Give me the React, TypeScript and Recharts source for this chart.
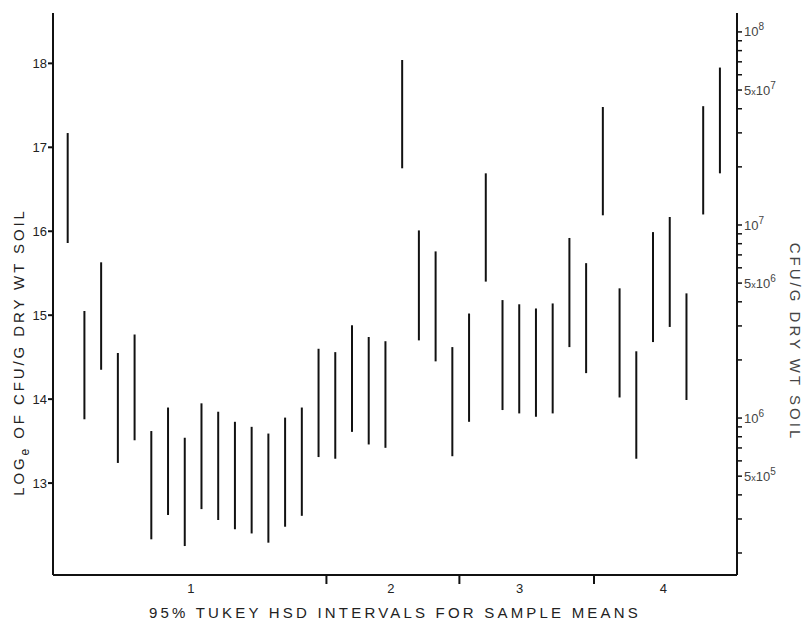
import React from 'react';
import { ComposedChart, Bar, XAxis, YAxis, Label } from 'recharts';

// Tukey HSD intervals, loge(CFU / g dry wt soil) left to right
const lower = [
  15.86, 13.76, 14.35, 13.24, 13.51, 12.33, 12.62, 12.25, 12.69, 12.56,
  12.45, 12.4, 12.29, 12.48, 12.61, 13.31, 13.29, 13.61, 13.46, 13.42,
  16.75, 14.7, 14.45, 13.32, 13.73, 15.4, 13.87, 13.83, 13.79, 13.83,
  14.62, 14.31, 16.19, 14.02, 13.29, 14.68, 14.86, 13.99, 16.2, 16.69,
];
const upper = [
  17.17, 15.05, 15.63, 14.55, 14.77, 13.62, 13.9, 13.54, 13.95, 13.85,
  13.73, 13.67, 13.59, 13.78, 13.9, 14.6, 14.56, 14.88, 14.74, 14.69,
  18.04, 16.01, 15.76, 14.62, 15.02, 16.69, 15.18, 15.13, 15.08, 15.14,
  15.92, 15.62, 17.48, 15.32, 14.57, 15.99, 16.17, 15.26, 17.49, 17.95,
];

const groupNames = ['1', '2', '3', '4'];
const groupCenters = [7.35, 19.3, 27.0, 35.6];
const groupBreaks = [15.45, 23.4, 31.45];

const leftTicks = [13, 14, 15, 16, 17, 18];
const rightMantissas = [1, 2, 3, 4, 5, 6, 7, 8, 9];
const rightExponents = [5, 6, 7, 8];

const rows = lower.map((lo, i) => ({ pos: i, range: [lo, upper[i]] }));

const rightTicks: number[] = [];
rightExponents.forEach((e) => {
  rightMantissas.forEach((m) => {
    const v = Math.log10(m * Math.pow(10, e));
    if (v >= 5.2 && v <= 8.001) rightTicks.push(v);
  });
});

const FONT = '"Liberation Sans", Arial, Helvetica, sans-serif';

const XTick = (props: any) => {
  const { x, y, payload } = props;
  const idx = groupCenters.indexOf(payload.value);
  if (idx >= 0) {
    return (
      <text x={x} y={y + 18} textAnchor="middle" fontSize={13} fill="#222" fontFamily={FONT}>
        {groupNames[idx]}
      </text>
    );
  }
  return <line x1={x} x2={x} y1={y} y2={y + 9} stroke="#111" strokeWidth={2} />;
};

const RightTick = (props: any) => {
  const { x, y, payload } = props;
  const exp = Math.floor(payload.value + 1e-9);
  const mant = Math.round(Math.pow(10, payload.value - exp));
  if (mant !== 1 && mant !== 5) return null;
  return (
    <text x={x + 1} y={y} dy="0.35em" fontSize={13} fill="#444" fontFamily={FONT}>
      {mant === 5 && <tspan>5</tspan>}
      {mant === 5 && <tspan fontSize={9}>x</tspan>}
      <tspan>10</tspan>
      <tspan dy={-6} fontSize={10}>{exp}</tspan>
    </text>
  );
};

export default function App() {
  return (
    <div style={{ position: 'absolute', left: 0, top: 0, background: '#fff' }}>
      <ComposedChart
        width={803}
        height={622}
        data={rows}
        margin={{ top: 13, right: 6, bottom: 17, left: 8 }}
      >
        <XAxis
          dataKey="pos"
          type="number"
          domain={[-0.9, 40]}
          ticks={[...groupBreaks, ...groupCenters]}
          interval={0}
          tickLine={false}
          tickSize={0}
          tickMargin={0}
          tick={<XTick />}
          axisLine={{ stroke: '#111', strokeWidth: 2 }}
          height={30}
          allowDataOverflow
        >
          <Label
            content={() => (
              <text
                x={395}
                y={618}
                textAnchor="middle"
                fontSize={15}
                letterSpacing={3.2}
                fill="#222"
                fontFamily={FONT}
              >
                95% TUKEY HSD INTERVALS FOR SAMPLE MEANS
              </text>
            )}
          />
        </XAxis>
        <YAxis
          yAxisId="left"
          width={45}
          domain={[11.905, 18.6]}
          ticks={leftTicks}
          interval={0}
          tickSize={5}
          tickMargin={1}
          tickLine={{ stroke: '#111', strokeWidth: 2 }}
          axisLine={{ stroke: '#111', strokeWidth: 2 }}
          tick={{ fill: '#222', fontSize: 13, fontFamily: FONT }}
          allowDataOverflow
        >
          <Label
            content={() => (
              <text
                transform="translate(24 352) rotate(-90)"
                textAnchor="middle"
                fontSize={15}
                letterSpacing={2.9}
                fill="#222"
                fontFamily={FONT}
              >
                <tspan>LOG</tspan>
                <tspan dy={5} fontSize={12}>e</tspan>
                <tspan dy={-5}> OF CFU/G DRY WT SOIL</tspan>
              </text>
            )}
          />
        </YAxis>
        <YAxis
          yAxisId="right"
          orientation="right"
          width={60}
          domain={[5.187, 8.098]}
          ticks={rightTicks}
          interval={0}
          tickSize={5}
          tickMargin={1}
          tickLine={{ stroke: '#111', strokeWidth: 1.5 }}
          axisLine={{ stroke: '#111', strokeWidth: 2 }}
          tick={<RightTick />}
          allowDataOverflow
        >
          <Label
            content={() => (
              <text
                transform="translate(790 342) rotate(90)"
                textAnchor="middle"
                fontSize={15}
                letterSpacing={3}
                fill="#444"
                fontFamily={FONT}
              >
                CFU/G DRY WT SOIL
              </text>
            )}
          />
        </YAxis>
        <Bar
          yAxisId="left"
          dataKey="range"
          barSize={2}
          fill="#111"
          isAnimationActive={false}
        />
      </ComposedChart>
    </div>
  );
}
